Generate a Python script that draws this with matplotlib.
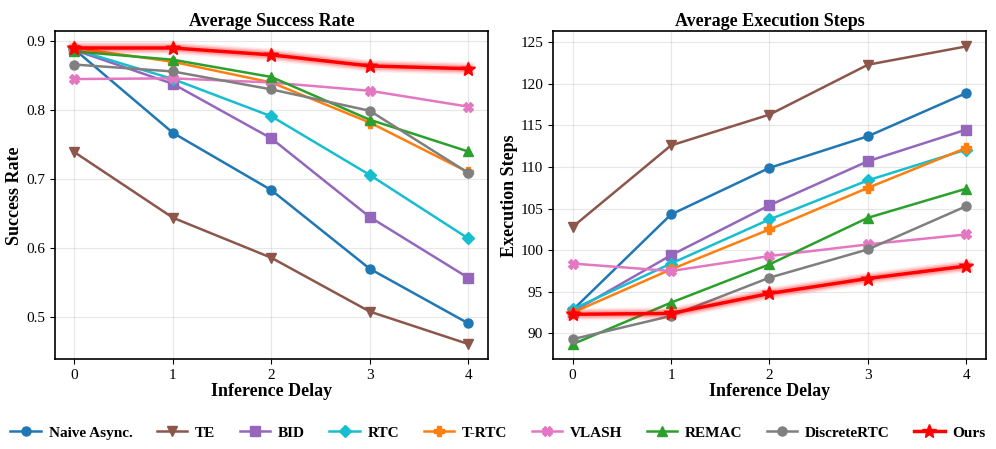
import matplotlib
matplotlib.use("Agg")
import matplotlib.pyplot as plt
import numpy as np

plt.rcParams["font.family"] = ["Liberation Serif", "DejaVu Serif"]

delays = [0, 1, 2, 3, 4]
methods = ["Naive Async.", "TE", "BID", "RTC", "T-RTC", "VLASH", "REMAC", "DiscreteRTC", "Ours"]
colors = ["#1f77b4", "#8c564b", "#9467bd", "#17becf", "#ff7f0e", "#e377c2", "#2ca02c", "#7f7f7f", "#ff0000"]
markers = ["o", "v", "s", "D", "P", "X", "^", "o", "*"]

success = [
    [0.888, 0.767, 0.684, 0.570, 0.491],
    [0.739, 0.644, 0.586, 0.508, 0.461],
    [0.887, 0.838, 0.759, 0.645, 0.557],
    [0.888, 0.845, 0.791, 0.706, 0.614],
    [0.890, 0.870, 0.840, 0.782, 0.710],
    [0.845, 0.846, 0.840, 0.828, 0.805],
    [0.885, 0.873, 0.848, 0.786, 0.740],
    [0.866, 0.856, 0.830, 0.799, 0.709],
    [0.890, 0.890, 0.880, 0.864, 0.860],
]
steps = [
    [92.8, 104.3, 109.9, 113.7, 118.9],
    [102.8, 112.6, 116.3, 122.3, 124.5],
    [92.6, 99.4, 105.4, 110.7, 114.5],
    [92.9, 98.4, 103.7, 108.4, 112.1],
    [92.5, 97.7, 102.5, 107.5, 112.3],
    [98.4, 97.5, 99.3, 100.7, 101.9],
    [88.7, 93.7, 98.3, 103.9, 107.4],
    [89.3, 92.1, 96.7, 100.1, 105.3],
    [92.3, 92.4, 94.8, 96.6, 98.1],
]

fig, axes = plt.subplots(1, 2, figsize=(9.96, 4.49), dpi=100)
for ax, data, title, ylab, ylim in [
    (axes[0], success, "Average Success Rate", "Success Rate", (0.439, 0.914)),
    (axes[1], steps, "Average Execution Steps", "Execution Steps", (86.9, 126.3)),
]:
    for name, vals, c, m in zip(methods, data, colors, markers):
        if name == "Ours":
            # glow effect
            for lw, a in [(9, 0.08), (7, 0.12), (5, 0.2)]:
                ax.plot(delays, vals, color=c, lw=lw, alpha=a, marker=m, ms=12, mew=0, zorder=9)
            ax.plot(delays, vals, color=c, lw=2.5, marker=m, ms=10, label=name, zorder=10)
        else:
            ax.plot(delays, vals, color=c, lw=1.8, marker=m, ms=6.5, label=name)
    ax.set_title(title, fontsize=13, fontweight="bold", pad=4)
    ax.set_ylabel(ylab, fontsize=13, fontweight="bold", labelpad=2)
    ax.set_xlabel("Inference Delay", fontsize=13, fontweight="bold", labelpad=1)
    ax.set_xticks(delays)
    ax.set_ylim(*ylim)
    ax.tick_params(labelsize=11)
    ax.grid(alpha=0.3)
    for s in ax.spines.values():
        s.set_linewidth(1.2)
axes[1].set_yticks([90, 95, 100, 105, 110, 115, 120, 125])

handles, labels = axes[0].get_legend_handles_labels()
leg = fig.legend(handles, labels, loc="lower center", ncol=9, frameon=False,
                 prop={"weight": "bold", "size": 11}, bbox_to_anchor=(0.5, -0.01),
                 handlelength=2.0, columnspacing=1.6, handletextpad=0.5)
fig.subplots_adjust(left=0.055, right=0.99, top=0.93, bottom=0.2, wspace=0.15)
fig.savefig("out.png", dpi=100)
